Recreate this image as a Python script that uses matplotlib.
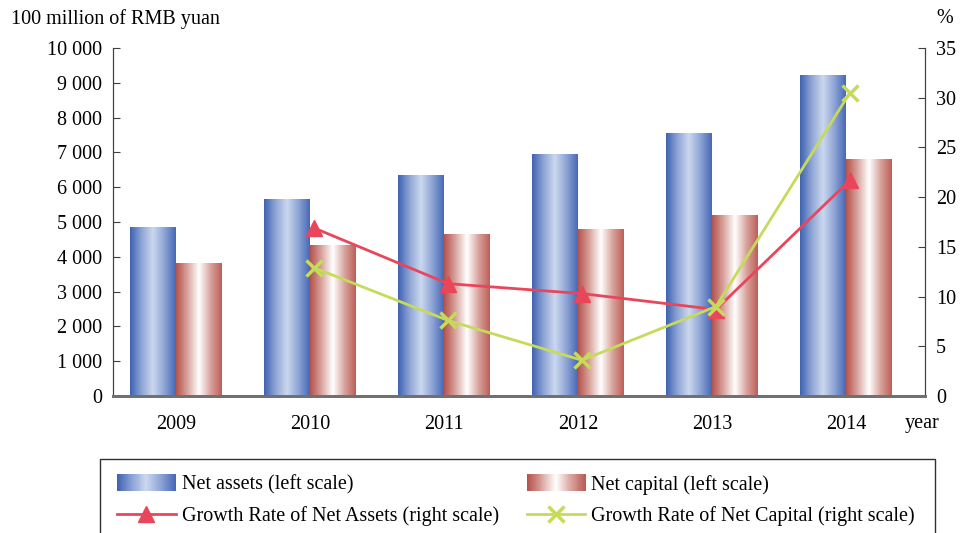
import numpy as np
import matplotlib
matplotlib.use('Agg')
import matplotlib.pyplot as plt
from matplotlib.colors import LinearSegmentedColormap
from matplotlib.legend_handler import HandlerBase
from matplotlib.patches import Rectangle
from matplotlib.lines import Line2D
from matplotlib.ticker import FuncFormatter, MultipleLocator

years = ['2009', '2010', '2011', '2012', '2013', '2014']
net_assets = [4830, 5660, 6330, 6950, 7550, 9200]
net_capital = [3820, 4310, 4630, 4770, 5200, 6790]
growth_years = [1, 2, 3, 4, 5]
growth_assets = [16.9, 11.3, 10.3, 8.7, 21.7]
growth_capital = [12.9, 7.6, 3.6, 9.0, 30.5]

plt.rcParams['font.family'] = ['Liberation Serif', 'DejaVu Serif']

blue_cmap = LinearSegmentedColormap.from_list(
    'blue', ['#3f63b1', '#8ea4d5', '#cbd8ef', '#8ea4d5', '#4769b7'])
red_cmap = LinearSegmentedColormap.from_list(
    'red', ['#b5534c', '#d9a49e', '#ffffff', '#d9a49e', '#bd5f58'])
RED = '#e9455b'
GREEN = '#c6da5c'
FS = 14.5


class GradientHandler(HandlerBase):
    def __init__(self, cmap):
        super().__init__()
        self.cmap = cmap

    def create_artists(self, legend, orig_handle, xdescent, ydescent,
                       width, height, fontsize, trans):
        n = 60
        arts = []
        for i in range(n):
            arts.append(Rectangle((-xdescent + i * width / n, -ydescent - 1),
                                  width / n * 1.5, height + 2,
                                  facecolor=self.cmap(i / (n - 1)),
                                  edgecolor='none', transform=trans))
        return arts


fig = plt.figure(figsize=(9.6, 5.33), dpi=100)
ax = fig.add_axes([0.1177, 0.257, 0.8458, 0.653])
ax2 = ax.twinx()

w = 0.343
grad = np.linspace(0, 1, 200).reshape(1, -1)
x = np.arange(len(years))
for i in range(len(years)):
    ax.imshow(grad, extent=[x[i] - w, x[i], 0, net_assets[i]], aspect='auto',
              cmap=blue_cmap, zorder=2, interpolation='bilinear')
    ax.imshow(grad, extent=[x[i], x[i] + w, 0, net_capital[i]], aspect='auto',
              cmap=red_cmap, zorder=2, interpolation='bilinear')

ax.set_xlim(-0.47, 5.59)
ax.set_ylim(0, 10000)
ax.yaxis.set_major_locator(MultipleLocator(1000))
ax.yaxis.set_major_formatter(FuncFormatter(lambda v, p: f'{int(v):,}'.replace(',', ' ')))
ax.set_xticks(x)
ax.set_xticklabels(years)
ax.tick_params(axis='x', length=0, labelsize=FS, pad=14)
ax.tick_params(axis='y', direction='in', length=5, labelsize=FS, pad=8, color='#404040')

ax2.plot(np.array(growth_years) + 0.03, growth_assets, color=RED, lw=2,
         marker='^', markersize=11, zorder=3)
ax2.plot(np.array(growth_years) + 0.03, growth_capital, color=GREEN, lw=2,
         marker='x', markersize=11, mew=2.5, zorder=4)
ax2.set_ylim(0, 35)
ax2.yaxis.set_major_locator(MultipleLocator(5))
ax2.tick_params(axis='y', direction='in', length=5, labelsize=FS, pad=8, color='#404040')

for a in (ax, ax2):
    a.spines['top'].set_visible(False)
    a.spines['left'].set_color('#404040')
    a.spines['right'].set_color('#404040')
    a.spines['bottom'].set_color('#707070')
    a.spines['bottom'].set_linewidth(2)

fig.text(0.011, 0.965, '100 million of RMB yuan', fontsize=FS, va='center')
fig.text(0.993, 0.965, '%', fontsize=FS, va='center', ha='right')
fig.text(0.942, 0.205, 'year', fontsize=FS, va='center')

# legend box
fig.add_artist(Rectangle((0.104, -0.05), 0.87, 0.189, transform=fig.transFigure,
                         facecolor='none', edgecolor='#303030', lw=1))

h_assets = Rectangle((0, 0), 1, 1)
h_capital = Rectangle((0, 0), 1, 1)
h_ga = Line2D([], [], color=RED, lw=2, marker='^', markersize=11)
h_gc = Line2D([], [], color=GREEN, lw=2, marker='x', markersize=11, mew=2.5)
fig.legend([h_assets, h_ga, h_capital, h_gc],
           ['Net assets (left scale)', 'Growth Rate of Net Assets (right scale)',
            'Net capital (left scale)', 'Growth Rate of Net Capital (right scale)'],
           handler_map={h_assets: GradientHandler(blue_cmap),
                        h_capital: GradientHandler(red_cmap)},
           ncol=2, loc='upper left', bbox_to_anchor=(0.122, 0.109),
           frameon=False, fontsize=FS, handlelength=2.9, handletextpad=0.3,
           columnspacing=1.4, labelspacing=0.55, borderaxespad=0, borderpad=0)

fig.savefig('out.png', dpi=100)
